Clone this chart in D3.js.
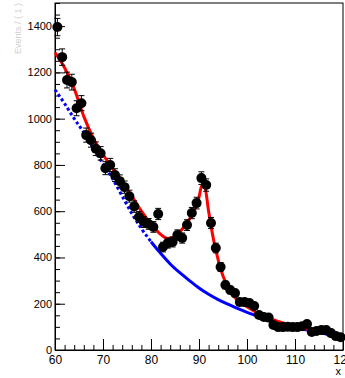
<!DOCTYPE html>
<html>
<head>
<meta charset="utf-8">
<script src="https://cdn.jsdelivr.net/npm/d3@7"></script>
<style>
  body { margin: 0; background: #fff; }
  svg { display: block; }
  .axis text { font-family: "Liberation Sans", Arial, sans-serif; font-size: 11px; fill: #000; }
  .axis path, .axis line { stroke: #000; stroke-width: 1; }
</style>
</head>
<body>
<div id="chart"></div>
<script>
// bin centres (1 unit bins, 60 -> 120)
var binX = d3.range(60.5, 120, 1);
var counts = [1396,1266,1167,1158,1045,1067,929,907,870,850,
              786,800,756,730,704,665,620,575,553,545,
              532,588,445,462,467,497,484,540,592,635,
              743,713,549,441,359,281,259,246,207,207,
              203,190,151,143,140,108,99,99,100,99,
              99,103,112,78,82,86,86,73,60,55];

// total fit (red)
var fitX = [60,62,64,66,68,70,72,74,76,78,80,82,83.5,85,86,87,88,89,90,90.6,
            91.2,92,93,94,95,96,97,98,99,100,102,104,106,108,110,112,114,116,118,120];
var fitY = [1285,1220,1130,1010,915,845,785,725,665,600,545,500,482,490,510,535,565,605,660,712,
            705,600,480,390,320,275,240,215,200,187,162,142,127,114,103,93,84,76,68,60];

// background component (blue)
var bkgX = [60,62,64,66,68,70,72,74,76,78,80,82,84,86,88,90,92,94,96,98,
            100,102,104,106,108,110,112,114,116,118,120];
var bkgY = [1125,1065,1000,940,870,805,740,665,590,525,468,418,372,334,300,268,241,218,198,180,
            163,148,134,121,109,98,88,79,71,63,56];

var yMajor = [0,200,400,600,800,1000,1200,1400];
var xMajor = [60,70,80,90,100,110,120];

var W = 345, H = 378;
var m = {left: 55, right: 343, top: 3, bottom: 350};

var svg = d3.select("#chart").append("svg")
    .attr("width", W)
    .attr("height", H);

var x = d3.scaleLinear().domain([60, 120]).range([m.left, m.right]);
var y = d3.scaleLinear().domain([0, 1500]).range([m.bottom, m.top]);

// frame
svg.append("rect")
    .attr("x", m.left).attr("y", m.top)
    .attr("width", m.right - m.left).attr("height", m.bottom - m.top)
    .style("fill", "none").style("stroke", "#000").style("stroke-width", 1);

// y axis: minor then major ticks pointing inward
svg.append("g")
    .attr("class", "axis")
    .attr("transform", "translate(" + m.left + ",0)")
    .call(d3.axisLeft(y).tickValues(d3.range(0, 1501, 50)).tickSize(-5).tickFormat(""))
    .select(".domain").remove();
svg.append("g")
    .attr("class", "axis")
    .attr("transform", "translate(" + m.left + ",0)")
    .call(d3.axisLeft(y).tickValues(yMajor).tickSize(-10).tickPadding(3)
        .tickSizeOuter(0).tickFormat(d3.format("d")));

// x axis
svg.append("g")
    .attr("class", "axis")
    .attr("transform", "translate(0," + m.bottom + ")")
    .call(d3.axisBottom(x).tickValues(d3.range(60, 121, 2)).tickSize(-5).tickFormat(""))
    .select(".domain").remove();
var xa = svg.append("g")
    .attr("class", "axis")
    .attr("transform", "translate(0," + m.bottom + ")")
    .call(d3.axisBottom(x).tickValues(xMajor).tickSize(-11).tickPadding(5)
        .tickSizeOuter(0).tickFormat(d3.format("d")));
xa.selectAll("text").style("font-size", "12px");

// axis titles
svg.append("text")
    .attr("x", m.right - 2).attr("y", 375)
    .attr("text-anchor", "end")
    .style("font-family", "Liberation Sans, Arial, sans-serif")
    .style("font-size", "11px")
    .text("x");
svg.append("text")
    .attr("transform", "translate(21,3) rotate(-90)")
    .attr("text-anchor", "end")
    .style("font-family", "Liberation Sans, Arial, sans-serif")
    .style("font-size", "9px")
    .style("fill", "#d0d0d0")
    .text("Events / ( 1 )");

// background curve: dotted while steep, then solid
var bkg = bkgX.map(function(d, i) { return [d, bkgY[i]]; });
var line = d3.line()
    .x(function(d) { return x(d[0]); })
    .y(function(d) { return y(d[1]); })
    .curve(d3.curveMonotoneX);

svg.append("path")
    .datum(bkg.filter(function(d) { return d[0] <= 80; }))
    .attr("d", line)
    .style("fill", "none").style("stroke", "#0000ff")
    .style("stroke-width", 3).style("stroke-dasharray", "3,2.5");
svg.append("path")
    .datum(bkg.filter(function(d) { return d[0] >= 80; }))
    .attr("d", line)
    .style("fill", "none").style("stroke", "#0000ff")
    .style("stroke-width", 3);

// total fit
svg.append("path")
    .datum(fitX.map(function(d, i) { return [d, fitY[i]]; }))
    .attr("d", line)
    .style("fill", "none").style("stroke", "#ff0000")
    .style("stroke-width", 3);

// data points with poisson errors
var pts = svg.selectAll(".pt")
    .data(counts)
    .enter()
    .append("g")
    .attr("class", "pt")
    .attr("transform", function(d, i) { return "translate(" + x(binX[i]) + ",0)"; });

pts.append("line")
    .attr("y1", function(d) { return y(d + Math.sqrt(d)); })
    .attr("y2", function(d) { return y(d - Math.sqrt(d)); })
    .style("stroke", "#000").style("stroke-width", 1);
pts.append("line")
    .attr("x1", -3).attr("x2", 3)
    .attr("y1", function(d) { return y(d + Math.sqrt(d)); })
    .attr("y2", function(d) { return y(d + Math.sqrt(d)); })
    .style("stroke", "#000").style("stroke-width", 1);
pts.append("line")
    .attr("x1", -3).attr("x2", 3)
    .attr("y1", function(d) { return y(d - Math.sqrt(d)); })
    .attr("y2", function(d) { return y(d - Math.sqrt(d)); })
    .style("stroke", "#000").style("stroke-width", 1);
pts.append("circle")
    .attr("cy", function(d) { return y(d); })
    .attr("r", 5)
    .style("fill", "#000");
</script>
</body>
</html>
